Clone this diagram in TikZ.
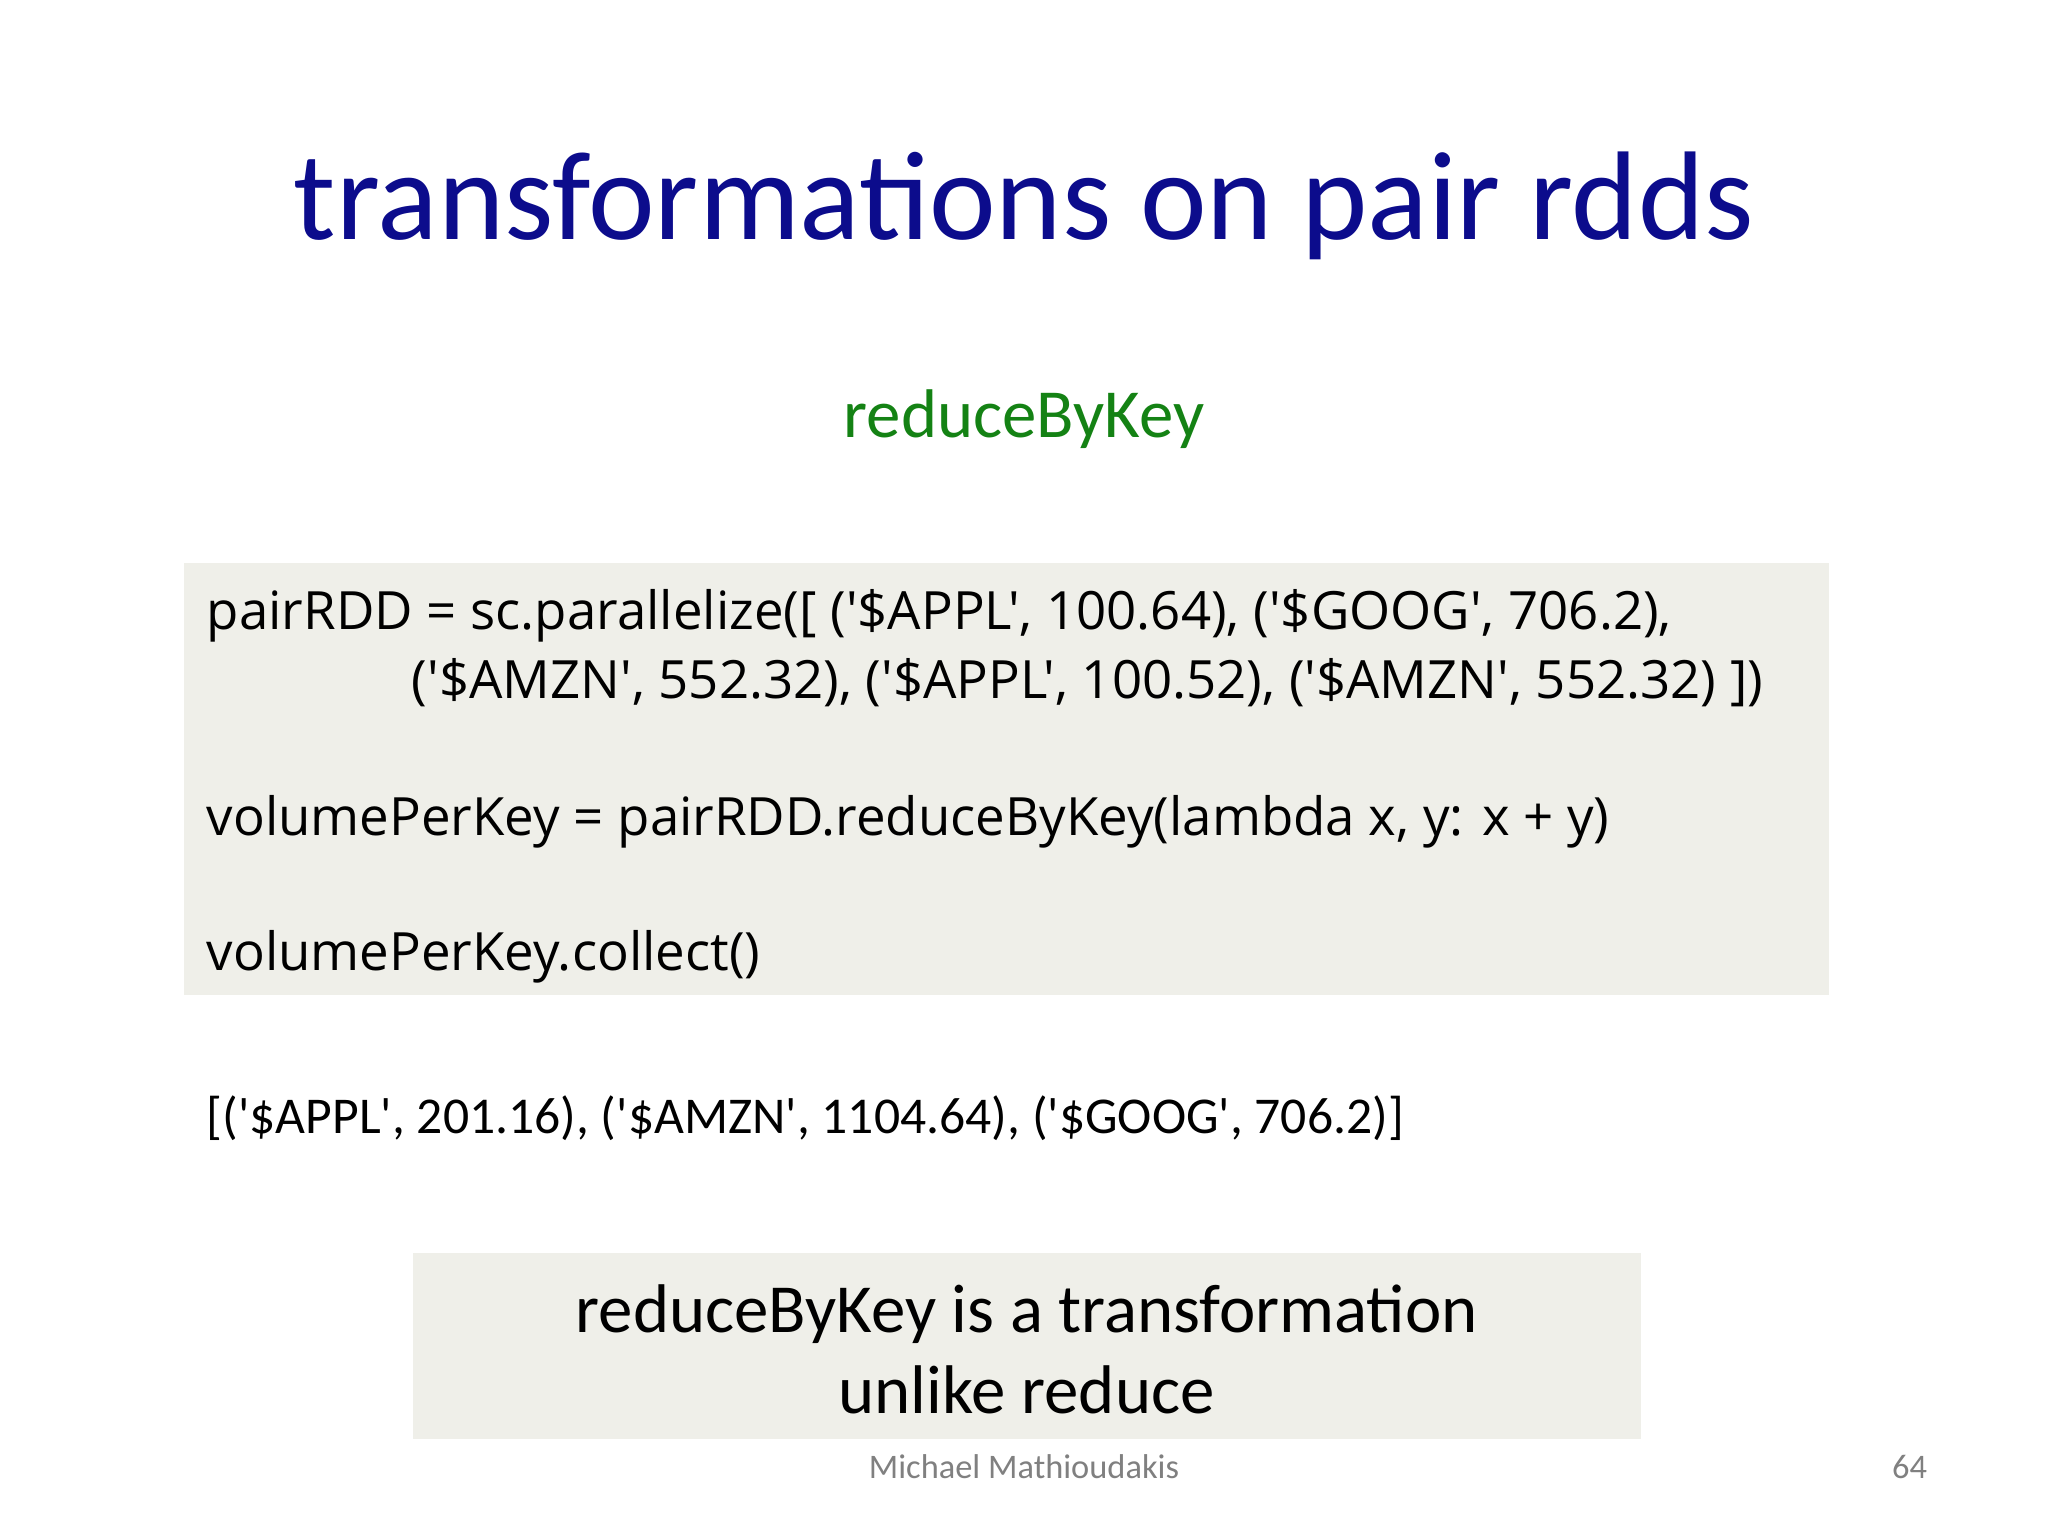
\documentclass[tikz,border=0pt]{standalone}
\usepackage{fontspec}
\setmainfont{Carlito}
\newfontfamily\codefont{Open Sans}
\newfontfamily\resfont{Carlito}
\definecolor{titleblue}{RGB}{12,12,140}
\definecolor{subgreen}{RGB}{20,130,20}
\definecolor{boxfill}{RGB}{239,239,233}
\tikzset{txt/.style={anchor=base,inner sep=0pt},
 code/.style={txt,anchor=base west,font=\codefont\fontsize{23}{28}\selectfont}}
\begin{document}
\begin{tikzpicture}[x=0.02cm,y=-0.02cm]
\useasboundingbox (0,0) rectangle (1568,1176);
\node[txt,text=titleblue,font=\fontsize{55}{62}\selectfont] (title) at (784,183) {transformations on pair rdds};
\node[txt,text=subgreen,font=\fontsize{30}{36}\selectfont] (sub) at (784,335) {reduceByKey};
\fill[boxfill] (141,431) rectangle (1400,762);
\node[code] (c1) at (158,482) {pairRDD = sc.parallelize([ ('\$APPL', 100.64), ('\$GOOG', 706.2),};
\node[code] (c2) at (315,535) {('\$AMZN', 552.32), ('\$APPL', 100.52), ('\$AMZN', 552.32) ])};
\node[code] (c3) at (158,640) {volumePerKey = pairRDD.reduceByKey(lambda x, y: x + y)};
\node[code] (c4) at (158,743) {volumePerKey.collect()};
\node[txt,anchor=base west,font=\resfont\fontsize{22.5}{27}\selectfont] (res) at (158,868) {[('\$APPL', 201.16), ('\$AMZN', 1104.64), ('\$GOOG', 706.2)]};
\fill[boxfill] (316,959) rectangle (1256,1102);
\node[txt,font=\fontsize{30}{36}\selectfont] (n1) at (786,1020) {reduceByKey is a transformation};
\node[txt,font=\fontsize{30}{36}\selectfont] (n2) at (786,1082) {unlike reduce};
\node[txt,text=gray,font=\fontsize{15}{18}\selectfont] (foot) at (784,1132) {Michael Mathioudakis};
\node[txt,text=gray,font=\fontsize{15}{18}\selectfont] (pg) at (1462,1132) {64};
\end{tikzpicture}
\end{document}
